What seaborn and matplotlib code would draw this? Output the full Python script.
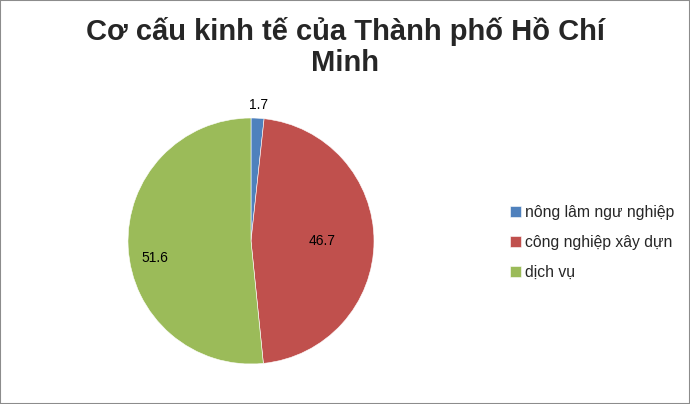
import matplotlib
matplotlib.use("Agg")
import matplotlib.pyplot as plt
import seaborn as sns
import numpy as np
from matplotlib.patches import Rectangle

sns.set_theme(style="white")
plt.rcParams['font.family'] = ['Liberation Sans', 'DejaVu Sans']

title = "Cơ cấu kinh tế của Thành phố Hồ Chí\nMinh"
categories = ["nông lâm ngư nghiệp", "công nghiệp xây dựn", "dịch vụ"]
values = [1.7, 46.7, 51.6]
value_labels = ["1.7", "46.7", "51.6"]
colors = ["#4F81BD", "#C0504D", "#9BBB59"]
label_dist = [1.11, 0.58, 0.78]
label_dy = [0.0, 0.0, -0.1]

W, H = 690, 404
fig = plt.figure(figsize=(W / 100, H / 100), dpi=100)
fig.patch.set_facecolor("white")
fig.patches.append(Rectangle((0, 0), 1, 1, transform=fig.transFigure, fill=False,
                             edgecolor="#8c8c8c", linewidth=1.5))

cx, cy, r = 251, 241, 123
ax = fig.add_axes([(cx - r) / W, (H - cy - r) / H, 2 * r / W, 2 * r / H])
wedges, _ = ax.pie(values, colors=colors, startangle=90, counterclock=False,
                   radius=1, wedgeprops=dict(edgecolor="white", linewidth=0.4))
ax.set_xlim(-1, 1)
ax.set_ylim(-1, 1)
ax.set_aspect("equal")
ax.axis("off")

for w, lab, d, dy in zip(wedges, value_labels, label_dist, label_dy):
    ang = np.deg2rad((w.theta1 + w.theta2) / 2)
    ax.text(d * np.cos(ang), d * np.sin(ang) + dy, lab, ha="center", va="center",
            fontsize=10, color="black", clip_on=False)

fig.text(0.5, 1 - 47 / H, title, ha="center", va="center", fontsize=21,
         fontweight="bold", linespacing=1.18,
         family=["Liberation Sans Narrow", "Liberation Sans", "DejaVu Sans"])

fig.legend(wedges, categories, loc="upper left",
           bbox_to_anchor=(510 / W, 1 - 205 / H), frameon=False,
           fontsize=11.3, handlelength=0.7, handleheight=0.7,
           handletextpad=0.25, labelspacing=0.95, borderpad=0, borderaxespad=0)

fig.savefig("out.png", dpi=100)
